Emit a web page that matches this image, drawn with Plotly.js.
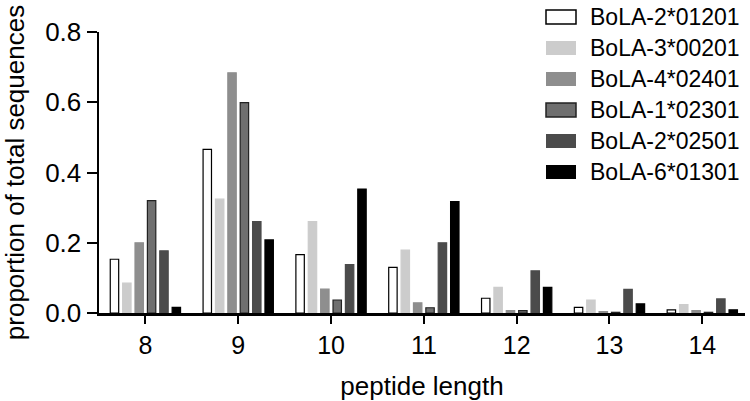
<!DOCTYPE html>
<html>
<head>
<meta charset="utf-8">
<script src="https://cdn.plot.ly/plotly-3.0.1.min.js"></script>
<style>
  html, body { margin: 0; padding: 0; background: #fff; }
  #chart { width: 750px; height: 401px; }
</style>
</head>
<body>
<div id="chart"></div>
<script>
// peptide lengths on the x axis
const lengths = ['8', '9', '10', '11', '12', '13', '14'];

// proportion of total sequences, one array per allele
const bola2_01201 = [0.153, 0.466, 0.166, 0.130, 0.042, 0.016, 0.009];
const bola3_00201 = [0.085, 0.324, 0.260, 0.179, 0.073, 0.037, 0.024];
const bola4_02401 = [0.200, 0.684, 0.068, 0.029, 0.007, 0.004, 0.007];
const bola1_02301 = [0.320, 0.599, 0.037, 0.015, 0.007, 0.002, 0.002];
const bola2_02501 = [0.177, 0.260, 0.138, 0.200, 0.120, 0.067, 0.040];
const bola6_01301 = [0.016, 0.208, 0.353, 0.317, 0.073, 0.026, 0.009];

const seriesNames = ['BoLA-2*01201', 'BoLA-3*00201', 'BoLA-4*02401',
                     'BoLA-1*02301', 'BoLA-2*02501', 'BoLA-6*01301'];
const seriesValues = [bola2_01201, bola3_00201, bola4_02401,
                      bola1_02301, bola2_02501, bola6_01301];
const fills = ['#ffffff', '#cccccc', '#8e8e8e', '#6f6f6f', '#4b4b4b', '#000000'];
const edges = ['#000000', '#cccccc', '#8e8e8e', '#222222', '#4b4b4b', '#000000'];

const font = 'Liberation Sans, Arial, Helvetica, sans-serif';

// plot box in pixels (used to place the hand-drawn legend)
const W = 750, H = 401;
const M = { l: 99, r: 5, t: 32, b: 88 };
const px2x = px => (px - M.l) / (W - M.l - M.r);
const px2y = py => (H - M.b - py) / (H - M.t - M.b);

const traces = seriesNames.map((name, i) => ({
    type: 'bar',
    name: name,
    x: lengths,
    y: seriesValues[i],
    marker: { color: fills[i], line: { color: edges[i], width: 1.2 } }
}));

// legend: wide swatches like the original figure
const legendTop = 17, legendStep = 31;
const shapes = seriesNames.map((name, i) => {
    const cy = legendTop + i * legendStep;
    return {
        type: 'rect', xref: 'paper', yref: 'paper', layer: 'above',
        x0: px2x(546), x1: px2x(576), y0: px2y(cy + 7), y1: px2y(cy - 7),
        fillcolor: fills[i],
        line: { color: edges[i], width: (i === 0 || i === 3) ? 1.5 : 0 }
    };
});
const annotations = seriesNames.map((name, i) => ({
    xref: 'paper', yref: 'paper', showarrow: false,
    x: px2x(588), xanchor: 'left',
    y: px2y(legendTop + i * legendStep), yanchor: 'middle',
    text: name,
    font: { family: font, size: 23, color: '#000' }
}));

const layout = {
    width: W,
    height: H,
    margin: M,
    paper_bgcolor: '#fff',
    plot_bgcolor: '#fff',
    font: { family: font, size: 25, color: '#000' },
    barmode: 'group',
    bargap: 0.2,
    bargroupgap: 0.32,
    showlegend: false,
    shapes: shapes,
    annotations: annotations,
    xaxis: {
        type: 'category',
        range: [-0.5, 6.46],
        showgrid: false,
        zeroline: false,
        showline: true,
        linecolor: '#000',
        linewidth: 2.5,
        ticks: 'outside',
        ticklen: 8,
        tickwidth: 2,
        tickcolor: '#000',
        tickfont: { family: font, size: 25 },
        title: { text: 'peptide length', font: { family: font, size: 26 }, standoff: 22 }
    },
    yaxis: {
        range: [0, 0.8],
        tickvals: [0, 0.2, 0.4, 0.6, 0.8],
        ticktext: ['0.0', '0.2', '0.4', '0.6', '0.8'],
        showgrid: false,
        zeroline: false,
        showline: true,
        linecolor: '#000',
        linewidth: 2.5,
        ticks: 'outside',
        ticklen: 10,
        tickwidth: 2,
        tickcolor: '#000',
        tickfont: { family: font, size: 26 },
        title: { text: 'proportion of total sequences', font: { family: font, size: 26 }, standoff: 14 }
    }
};

Plotly.newPlot('chart', traces, layout, { displayModeBar: false, staticPlot: true });
</script>
</body>
</html>
